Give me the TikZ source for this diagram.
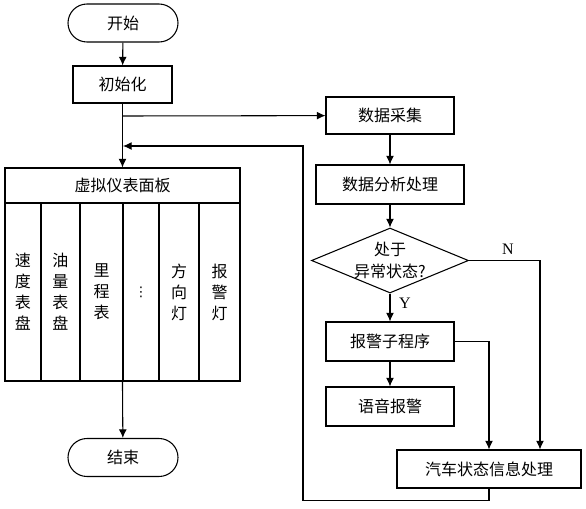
\documentclass[tikz,border=0pt]{standalone}
\usepackage{fontspec}
\setmainfont{Liberation Serif}
\newfontfamily\cjk{Noto Sans CJK SC}
\newfontfamily\sym{DejaVu Sans}
\usepackage{tikz}
\usetikzlibrary{shapes.geometric}
\usetikzlibrary{shapes.misc}
\usetikzlibrary{arrows.meta}
\tikzstyle{block}=[draw, line width=0.8pt, inner sep=0pt, minimum height=27.75pt, font=\cjk\fontsize{12}{14}\selectfont]
\tikzstyle{term}=[block, rounded rectangle, minimum width=82.5pt, minimum height=28.5pt]
\tikzstyle{decision}=[block, diamond, minimum width=117.75pt, minimum height=48.75pt]
\tikzstyle{gauge}=[draw, line width=0.8pt, inner sep=0pt, minimum height=133.5pt, align=center, font=\cjk\fontsize{12}{15.75}\selectfont]
\tikzstyle{flow}=[line width=0.8pt, -{Latex[length=6.5pt,width=6pt]}]

\begin{document}
\begin{tikzpicture}[x=0.75pt, y=-0.75pt]
        \useasboundingbox (0,0) rectangle (586,508);
        % left column
        \node[term] (start) at (123, 23) {开始};
        \node[block, minimum width=74.25pt] (init) at (122.5, 84.5) {初始化};
        \node[block, minimum width=176.25pt, minimum height=26.25pt] (panel) at (122.5, 185.5) {虚拟仪表面板};
        \node[gauge, minimum width=27pt] (g1) at (23, 292) {速\\度\\表\\盘};
        \node[gauge, minimum width=29.25pt] (g2) at (60.5, 292) {油\\量\\表\\盘};
        \node[gauge, minimum width=32.25pt] (g3) at (101.5, 292) {里\\程\\表};
        \node[gauge, minimum width=27pt, font=\sym\fontsize{10}{12}\selectfont] (g4) at (141, 292) {⋮};
        \node[gauge, minimum width=30pt] (g5) at (179, 292) {方\\向\\灯};
        \node[gauge, minimum width=30.75pt] (g6) at (219.5, 292) {报\\警\\灯};
        \node[term] (stop) at (123, 457.5) {结束};
        % right column
        \node[block, minimum width=96pt] (acq) at (390, 115.5) {数据采集};
        \node[block, minimum width=111pt, minimum height=29.25pt] (ana) at (390, 184.5) {数据分析处理};
        \node[decision, label={[font=\cjk\fontsize{12}{17}\selectfont, align=center]center:处于\\异常状态?}] (chk) at (390, 260.5) {};
        \node[block, minimum width=96pt, minimum height=29.25pt] (alarm) at (390, 341.5) {报警子程序};
        \node[block, minimum width=96pt, minimum height=29.25pt] (voice) at (390, 406.5) {语音报警};
        \node[block, minimum width=138pt, minimum height=28.5pt] (proc) at (489, 469) {汽车状态信息处理};
        \coordinate (fork) at (123, 116);
        \coordinate (back) at (123, 146);
        \coordinate (loop) at (303, 146);
        \node[font=\fontsize{12}{14}\selectfont] (ylab) at (405, 303) {Y};
        \node[font=\fontsize{12}{14}\selectfont] (nlab) at (508, 249) {N};
        % connectors
        \draw[flow] (start) -- (init);
        \draw[flow] (init) -- (panel);
        \draw[flow] (fork) -- (acq);
        \draw[flow] (g4.south west) -- (stop);
        \draw[flow] (acq) -- (ana);
        \draw[flow] (ana) -- (chk);
        \draw[flow] (chk) -- (alarm);
        \draw[flow] (alarm) -- (voice);
        \draw[flow] (alarm.east) -| (proc.north);
        \draw[flow] (chk.east) -| ([xshift=38.25pt]proc.north);
        \draw[flow] (proc.south) -- +(0, 12) -| (loop) -- (back);
    \end{tikzpicture}
\end{document}
